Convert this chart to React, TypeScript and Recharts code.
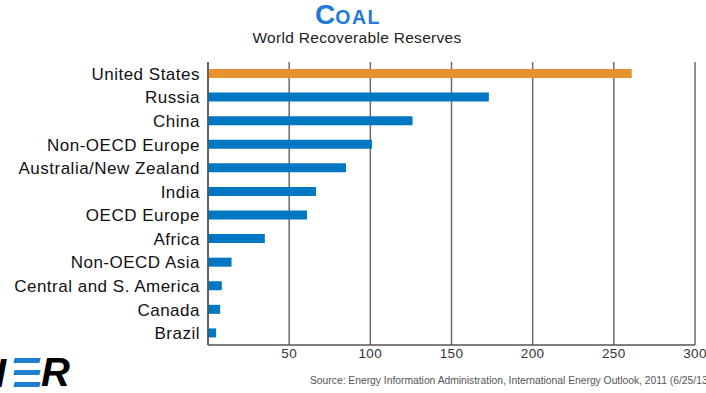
import React from "react";
import { BarChart, Bar, XAxis, YAxis, CartesianGrid, Cell } from "recharts";

const regions = [
  "United States",
  "Russia",
  "China",
  "Non-OECD Europe",
  "Australia/New Zealand",
  "India",
  "OECD Europe",
  "Africa",
  "Non-OECD Asia",
  "Central and S. America",
  "Canada",
  "Brazil",
];
const reserves = [261, 173, 126, 101, 85, 66.5, 61, 35, 14.5, 8.5, 7.5, 5];
const xTicks = [50, 100, 150, 200, 250, 300];

const data = regions.map((name, i) => ({ name, value: reserves[i] }));

const ORANGE = "#E8912F";
const BLUE = "#0077C2";
const FONT = "'Liberation Sans', Arial, sans-serif";

export default function App() {
  return (
    <div style={{ position: "absolute", left: 0, top: 0, width: 706, height: 393, background: "#fff", fontFamily: FONT, overflow: "hidden" }}>
      <div style={{ position: "absolute", left: 315, top: 0, color: "#1F7BD6", fontWeight: "bold", lineHeight: "30px", whiteSpace: "nowrap" }}>
        <span style={{ fontSize: 28 }}>C</span>
        <span style={{ fontSize: 19.5, letterSpacing: 1.5 }}>OAL</span>
      </div>
      <div style={{ position: "absolute", left: 4, width: 706, top: 29, textAlign: "center", color: "#222", fontSize: 15.5, letterSpacing: 0.3, lineHeight: "18px" }}>
        World Recoverable Reserves
      </div>
      <BarChart
        width={706}
        height={393}
        data={data}
        layout="vertical"
        margin={{ top: 62, right: 11, bottom: 0, left: 0 }}
        barCategoryGap={7}
      >
        <CartesianGrid horizontal={false} vertical={true} stroke="#6b6b6b" strokeWidth={1.5} />
        <XAxis
          type="number"
          domain={[0, 300]}
          ticks={xTicks}
          height={48}
          tickLine={false}
          tickSize={0}
          tickMargin={3}
          axisLine={{ stroke: "#555", strokeWidth: 1.5 }}
          tick={{ fill: "#333", fontSize: 13.5, letterSpacing: 0.4, fontFamily: FONT }}
          interval={0}
        />
        <YAxis
          type="category"
          dataKey="name"
          width={208}
          tickLine={false}
          tickSize={0}
          tickMargin={8}
          axisLine={{ stroke: "#555", strokeWidth: 1.5 }}
          tick={{ fill: "#111", fontSize: 17, letterSpacing: 0.5, fontFamily: FONT }}
          interval={0}
        />
        <Bar dataKey="value" barSize={9} isAnimationActive={false}>
          {data.map((d, i) => (
            <Cell key={d.name} fill={i === 0 ? ORANGE : BLUE} />
          ))}
        </Bar>
      </BarChart>
      <div style={{ position: "absolute", left: -5, top: 353, fontSize: 40, fontWeight: "bold", fontStyle: "italic", lineHeight: "40px", color: "#000", whiteSpace: "nowrap" }}>
        I
      </div>
      {[358, 370, 382].map((y) => (
        <div key={y} style={{ position: "absolute", left: 14, top: y, width: 26, height: 5, background: "#1E7FD0", transform: "skewX(-14deg)" }} />
      ))}
      <div style={{ position: "absolute", left: 41, top: 352, fontSize: 40, fontWeight: "bold", fontStyle: "italic", lineHeight: "40px", color: "#000", whiteSpace: "nowrap" }}>
        R
      </div>
      <div style={{ position: "absolute", left: 310, top: 375, fontSize: 10.3, color: "#555", whiteSpace: "nowrap" }}>
        Source: Energy Information Administration, International Energy Outlook, 2011 (6/25/13)
      </div>
    </div>
  );
}
